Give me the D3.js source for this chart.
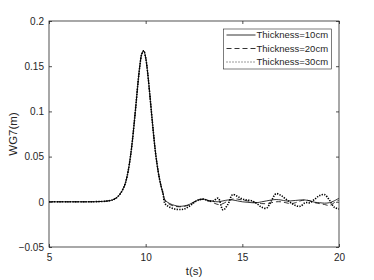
<!DOCTYPE html>
<meta charset="utf-8">
<head>
<style>
  body { margin: 0; background: #fff; }
  text { font-family: "Liberation Sans", Arial, sans-serif; fill: #262626; }
</style>
</head>
<body>
<svg width="374" height="280"></svg>

<script src="https://cdn.jsdelivr.net/npm/d3@7"></script>
<script>
// solitary wave, same for all three thicknesses up to ~11 s
var peakTime = [5, 6, 7, 7.5, 8, 8.3, 8.5, 8.7, 8.9, 9.0, 9.1, 9.2, 9.3, 9.4, 9.5, 9.6, 9.7, 9.8, 9.9,
                10.0, 10.1, 10.2, 10.3, 10.4, 10.5, 10.6, 10.7, 10.8, 10.9];
var peakWave = [0, 0, 0, 0.0002, 0.0008, 0.0022, 0.0046, 0.0093, 0.0175, 0.0245, 0.0345, 0.048, 0.065, 0.0856,
                0.108, 0.131, 0.1506, 0.1636, 0.167, 0.1594, 0.1433, 0.1219, 0.0989, 0.0765, 0.056, 0.040,
                0.027, 0.017, 0.009];

// tail after the crest, one per thickness
var tailTime = [11.0, 11.25, 11.5, 11.75, 12.0, 12.25, 12.5, 12.75, 13.0, 13.25, 13.5, 13.75, 14.0, 14.25,
                14.5, 14.75, 15.0, 15.25, 15.5, 15.75, 16.0, 16.25, 16.5, 16.75, 17.0, 17.25, 17.5, 17.75,
                18.0, 18.25, 18.5, 18.75, 19.0, 19.25, 19.5, 19.75, 20.0];
var tail10 = [0.002, -0.002, -0.004, -0.005, -0.0045, -0.003, 0.000, 0.0025, 0.003, 0.0015, 0.0005, 0.000,
              0.001, 0.002, 0.002, 0.001, 0.000, -0.0005, -0.001, -0.001, 0.000, 0.001, 0.002, 0.0025,
              0.002, 0.001, 0.001, 0.0015, 0.002, 0.002, 0.001, -0.0005, -0.001, -0.0015, -0.001, 0.001, 0.004];
var tail20 = [0.001, -0.003, -0.005, -0.0055, -0.005, -0.0035, -0.0005, 0.002, 0.0025, 0.001, -0.001, -0.003,
              -0.002, 0.001, 0.003, 0.003, 0.002, 0.001, 0.000, -0.001, -0.002, -0.002, -0.001, 0.000,
              0.000, -0.001, -0.002, -0.001, 0.001, 0.002, 0.001, -0.001, -0.002, -0.003, -0.004, -0.001, 0.002];
var tail30 = [-0.002, -0.006, -0.008, -0.0085, -0.008, -0.005, -0.001, 0.002, 0.003, 0.001, 0.001, 0.004,
              -0.009, -0.003, 0.008, 0.006, 0.003, 0.002, 0.001, -0.002, -0.006, -0.007, 0.001, 0.009,
              0.007, 0.003, -0.001, -0.004, -0.005, -0.001, -0.001, 0.003, 0.007, 0.008, 0.002, -0.006, -0.008];

var names = ["Thickness=10cm", "Thickness=20cm", "Thickness=30cm"];
var xTicks = [5, 10, 15, 20];
var yTicks = [-0.05, 0, 0.05, 0.1, 0.15, 0.2];

var svg = d3.select("svg"),
    margin = {top: 21, right: 35, bottom: 33, left: 49},
    width = 374 - margin.left - margin.right,
    height = 280 - margin.top - margin.bottom,
    g = svg.append("g").attr("transform", "translate(" + margin.left + "," + margin.top + ")");

var x = d3.scaleLinear().domain([5, 20]).range([0, width]),
    y = d3.scaleLinear().domain([-0.05, 0.2]).range([height, 0]);

function build(tail) {
  var pts = peakTime.map(function(t, i) { return {t: t, v: peakWave[i]}; });
  return pts.concat(tailTime.map(function(t, i) { return {t: t, v: tail[i]}; }));
}
var series = [build(tail10), build(tail20), build(tail30)];
var styles = [
  {w: 0.8, dash: null},
  {w: 0.8, dash: "5,3"},
  {w: 1.6, dash: "1.3,1.3"}
];

var line = d3.line()
    .curve(d3.curveCatmullRom)
    .x(function(d) { return x(d.t); })
    .y(function(d) { return y(d.v); });

g.append("defs").append("clipPath").attr("id", "clip")
  .append("rect").attr("width", width).attr("height", height);

var plot = g.append("g").attr("clip-path", "url(#clip)");
series.forEach(function(s, i) {
  plot.append("path")
      .attr("fill", "none")
      .attr("stroke", "#000")
      .attr("stroke-width", styles[i].w)
      .attr("stroke-dasharray", styles[i].dash)
      .attr("d", line(s));
});

// axes, ticks pointing inward on all four sides
function fmt(d) { return d3.format("")(+d.toFixed(2)); }
var axB = g.append("g").attr("transform", "translate(0," + height + ")")
    .call(d3.axisBottom(x).tickValues(xTicks).tickSize(-3).tickPadding(7).tickFormat(fmt));
var axT = g.append("g")
    .call(d3.axisTop(x).tickValues(xTicks).tickSize(-3).tickFormat(""));
var axL = g.append("g")
    .call(d3.axisLeft(y).tickValues(yTicks).tickSize(-3).tickPadding(5).tickFormat(fmt));
var axR = g.append("g").attr("transform", "translate(" + width + ",0)")
    .call(d3.axisRight(y).tickValues(yTicks).tickSize(-3).tickFormat(""));

[axB, axT, axL, axR].forEach(function(a) {
  a.select(".domain").remove();
  a.selectAll(".tick line").attr("stroke", "#262626").attr("stroke-width", 0.8);
  a.selectAll(".tick text").attr("font-size", 10).attr("fill", "#262626")
    .style("font-family", "'Liberation Sans', Arial, sans-serif");
});

g.append("rect")
    .attr("width", width).attr("height", height)
    .attr("fill", "none").attr("stroke", "#262626").attr("stroke-width", 0.8);

// axis titles
g.append("text")
    .attr("x", width / 2).attr("y", height + 28)
    .attr("text-anchor", "middle").attr("font-size", 11.5)
    .text("t(s)");
g.append("text")
    .attr("transform", "translate(-32," + height / 2 + ") rotate(-90)")
    .attr("text-anchor", "middle").attr("font-size", 11.5)
    .text("WG7(m)");

// legend
var lg = g.append("g").attr("transform", "translate(" + (x(5) + 174.5) + ",8)");
lg.append("rect")
    .attr("width", 108).attr("height", 40)
    .attr("fill", "#fff").attr("stroke", "#262626").attr("stroke-width", 0.6);
names.forEach(function(n, i) {
  var yy = 6 + i * 13.5;
  lg.append("line")
      .attr("x1", 3).attr("x2", 32).attr("y1", yy).attr("y2", yy)
      .attr("stroke", "#000")
      .attr("stroke-width", 0.8)
      .attr("stroke-dasharray", i === 2 ? "1,2" : styles[i].dash);
  lg.append("text")
      .attr("x", 33).attr("y", yy).attr("dy", "0.35em")
      .attr("font-size", 9.5)
      .text(n);
});
</script>
</body>
